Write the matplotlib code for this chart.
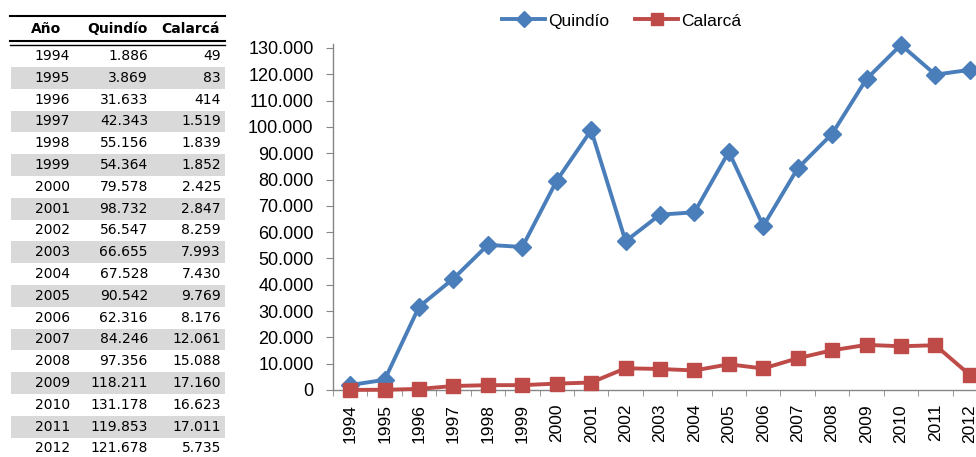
import matplotlib
matplotlib.use("Agg")
import matplotlib.pyplot as plt
from matplotlib.patches import Rectangle
from matplotlib.lines import Line2D
from matplotlib import font_manager
import numpy as np

years = [1994, 1995, 1996, 1997, 1998, 1999, 2000, 2001, 2002, 2003,
         2004, 2005, 2006, 2007, 2008, 2009, 2010, 2011, 2012]
quindio = [1886, 3869, 31633, 42343, 55156, 54364, 79578, 98732, 56547, 66655,
           67528, 90542, 62316, 84246, 97356, 118211, 131178, 119853, 121678]
calarca = [49, 83, 414, 1519, 1839, 1852, 2425, 2847, 8259, 7993,
           7430, 9769, 8176, 12061, 15088, 17160, 16623, 17011, 5735]
header = ["Año", "Quindío", "Calarcá"]
yticks = list(range(0, 130001, 10000))


def fmt(v):
    return f"{v:,}".replace(",", ".")


def has_font(name):
    try:
        font_manager.findfont(font_manager.FontProperties(family=name), fallback_to_default=False)
        return True
    except Exception:
        return False


W, H = 976, 457
fig = plt.figure(figsize=(W / 100, H / 100), dpi=100)

chart_font = ['Liberation Sans', 'DejaVu Sans']
blue = '#4A7EBB'
red = '#BE4B48'

# ---- chart ----
left, right, top, bottom = 333, 987, 44, 390
ax = fig.add_axes([left / W, (H - bottom) / H, (right - left) / W, (bottom - top) / H])
x = np.arange(len(years))
ax.plot(x, quindio, color=blue, lw=2.8, marker='D', ms=9, label='Quindío', clip_on=False, zorder=3)
ax.plot(x, calarca, color=red, lw=2.8, marker='s', ms=10, label='Calarcá', clip_on=False, zorder=4)
ax.set_xlim(-0.5, len(years) - 0.5)
ax.set_ylim(0, 131500)
ax.set_yticks(yticks)
ax.set_yticklabels([fmt(v) for v in yticks], family=chart_font, fontsize=13)
ax.set_xticks(x)
ax.set_xticklabels([str(y) for y in years], rotation=90, family=chart_font, fontsize=12.5)
ax.set_xticks(np.arange(-0.5, len(years)), minor=True)
ax.tick_params(axis='x', which='major', length=0, pad=10)
ax.tick_params(axis='x', which='minor', length=4.5, color='#868686', direction='out')
ax.tick_params(axis='y', length=5, color='#868686', direction='out', pad=9)
for s in ['top', 'right']:
    ax.spines[s].set_visible(False)
for s in ['left', 'bottom']:
    ax.spines[s].set_color('#868686')
    ax.spines[s].set_linewidth(1.0)

handles = [Line2D([], [], color=blue, lw=2.8, marker='D', ms=8),
           Line2D([], [], color=red, lw=2.8, marker='s', ms=9)]
fig.legend(handles, ['Quindío', 'Calarcá'], loc='center', bbox_to_anchor=(621.5 / W, 1 - 21 / H),
           ncol=2, frameon=False, prop={'family': chart_font, 'size': 12.5},
           handlelength=2.5, handletextpad=0.15, columnspacing=1.5)

# ---- table ----
tx = fig.add_axes([0, 0, 1, 1], zorder=-1)
tx.set_xlim(0, W)
tx.set_ylim(H, 0)
tx.axis('off')
if has_font('DejaVu Sans Condensed'):
    tfont, tsize, hsize = 'DejaVu Sans Condensed', 11, 10.5
else:
    tfont, tsize, hsize = 'DejaVu Sans', 10, 10
row_h = 21.8
y0 = 56
tx.plot([10, 225], [16, 16], color='black', lw=1.5)
tx.plot([10, 225], [41, 41], color='black', lw=1.5)
tx.plot([10, 225], [44.5, 44.5], color='black', lw=1.0)
col_right = [70, 148, 221]
hdr_x = [46, 117, 190]
for hx, h in zip(hdr_x, header):
    tx.text(hx, 29, h, ha='center', va='center', family=tfont, fontsize=hsize, fontweight='bold')
for i, (yr, q, c) in enumerate(zip(years, quindio, calarca)):
    yc = y0 + i * row_h
    if i % 2 == 1:
        tx.add_patch(Rectangle((11, yc - row_h / 2), 214, row_h, color='#D9D9D9', lw=0))
    for cx, val in zip(col_right, [str(yr), fmt(q), fmt(c)]):
        tx.text(cx, yc, val, ha='right', va='center', family=tfont, fontsize=tsize)

fig.savefig('out.png', dpi=100)
